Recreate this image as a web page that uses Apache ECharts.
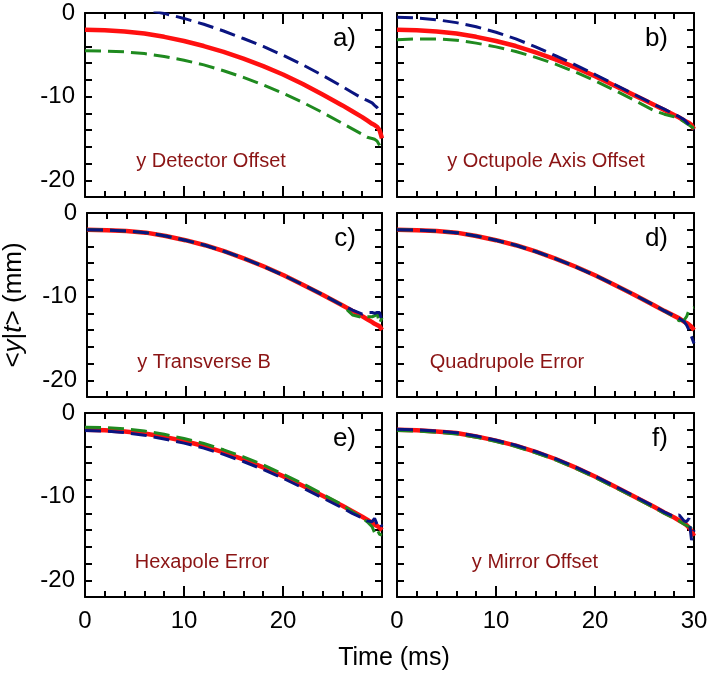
<!DOCTYPE html>
<html>
<head>
<meta charset="utf-8">
<script src="https://cdn.jsdelivr.net/npm/echarts@6/dist/echarts.min.js"></script>
<style>
html,body{margin:0;padding:0;background:#fff;}
#chart{width:712px;height:681px;}
</style>
</head>
<body>
<div id="chart"></div>
<script>
// ---- data (time in ms, <y|t> in mm) ----
const timeMs = [0,2,4,6,8,10,12,14,16,18,20,22,24,26,27,28,28.5,29,29.25,29.5,29.75,30];

const redA   = [-2.0,-2.05,-2.2,-2.45,-2.85,-3.35,-3.95,-4.65,-5.45,-6.35,-7.35,-8.5,-9.75,-11.05,-11.75,-12.45,-12.85,-13.25,-13.4,-13.6,-14.0,-15.0];
const navyA  = [1.0,0.95,0.8,0.45,-0.05,-0.65,-1.35,-2.15,-3.05,-4.0,-5.05,-6.2,-7.45,-8.8,-9.5,-10.2,-10.45,-10.75,-11.05,-11.3,-11.7,-12.1];
const greenA = [-4.5,-4.55,-4.65,-4.85,-5.2,-5.65,-6.2,-6.9,-7.7,-8.6,-9.6,-10.7,-11.9,-13.2,-13.85,-14.5,-14.85,-15.0,-15.1,-15.3,-15.8,-16.4];

const redB   = [-2.0,-2.05,-2.2,-2.45,-2.85,-3.35,-3.95,-4.7,-5.55,-6.5,-7.55,-8.7,-9.85,-11.0,-11.6,-12.2,-12.5,-12.85,-13.0,-13.15,-13.4,-13.9];
const navyB  = [-0.5,-0.6,-0.8,-1.15,-1.65,-2.3,-3.1,-4.05,-5.1,-6.2,-7.35,-8.55,-9.75,-10.95,-11.5,-12.1,-12.4,-12.75,-13.05,-13.35,-13.65,-14.0];
const greenB = [-3.2,-3.1,-3.1,-3.25,-3.6,-4.05,-4.6,-5.3,-6.1,-7.05,-8.1,-9.25,-10.45,-11.7,-12.1,-12.4,-12.6,-13.0,-13.2,-13.4,-13.6,-13.8];

const redC   = [-2.0,-2.05,-2.15,-2.35,-2.75,-3.25,-3.85,-4.6,-5.45,-6.4,-7.45,-8.6,-9.8,-11.05,-11.7,-12.35,-12.7,-13.05,-13.25,-13.4,-13.55,-14.0];
const navyC  = [-2.0,-2.05,-2.15,-2.35,-2.75,-3.25,-3.85,-4.6,-5.45,-6.4,-7.45,-8.6,-9.8,-11.05,-11.6,-12.1,-11.9,-11.9,-12.0,-11.9,-11.9,-12.9];
const greenC = [-2.0,-2.05,-2.15,-2.35,-2.75,-3.25,-3.85,-4.6,-5.45,-6.4,-7.45,-8.6,-9.8,-11.05,-12.2,-12.5,-12.4,-12.4,-12.3,-12.0,-13.2,-12.5];

const redD   = [-2.0,-2.05,-2.15,-2.35,-2.75,-3.25,-3.85,-4.6,-5.45,-6.4,-7.45,-8.6,-9.8,-11.05,-11.7,-12.3,-12.6,-13.0,-13.15,-13.35,-13.6,-14.0];
const navyD  = [-2.0,-2.05,-2.15,-2.35,-2.75,-3.25,-3.85,-4.6,-5.45,-6.4,-7.45,-8.6,-9.8,-11.05,-11.7,-12.3,-12.6,-13.0,-13.4,-14.0,-14.8,-15.6];
const greenD = [-2.0,-2.05,-2.15,-2.35,-2.75,-3.25,-3.85,-4.6,-5.45,-6.4,-7.45,-8.6,-9.8,-11.05,-11.7,-12.4,-12.9,-12.8,-12.4,-11.6,-11.4,-11.3];

const redE   = [-2.0,-2.05,-2.2,-2.45,-2.85,-3.35,-3.95,-4.7,-5.55,-6.5,-7.55,-8.7,-9.9,-11.1,-11.75,-12.4,-12.75,-13.15,-13.35,-13.5,-13.7,-14.0];
const navyE  = [-2.1,-2.15,-2.35,-2.65,-3.1,-3.6,-4.2,-4.95,-5.8,-6.75,-7.8,-8.95,-10.15,-11.35,-12.0,-12.55,-12.9,-13.0,-12.6,-13.3,-13.0,-13.6];
const greenE = [-1.7,-1.75,-1.9,-2.15,-2.55,-3.05,-3.65,-4.4,-5.25,-6.2,-7.3,-8.45,-9.7,-11.0,-11.8,-12.55,-13.0,-13.6,-14.3,-13.9,-14.5,-14.6];

const redF   = [-2.0,-2.05,-2.2,-2.4,-2.8,-3.3,-3.9,-4.65,-5.5,-6.5,-7.6,-8.8,-10.0,-11.25,-11.9,-12.5,-12.85,-13.2,-13.4,-13.7,-14.1,-14.7];
const navyF  = [-1.95,-2.0,-2.15,-2.35,-2.75,-3.25,-3.85,-4.6,-5.45,-6.45,-7.55,-8.75,-9.95,-11.2,-11.85,-12.4,-12.2,-12.9,-13.0,-12.6,-15.2,-14.0];
const greenF = [-2.1,-2.15,-2.3,-2.5,-2.9,-3.4,-4.0,-4.75,-5.6,-6.6,-7.7,-8.9,-10.1,-11.35,-12.0,-12.6,-12.9,-13.3,-13.45,-13.6,-13.8,-14.0];

const panelLetters = ['a)','b)','c)','d)','e)','f)'];
const panelNotes = ['y Detector Offset','y Octupole Axis Offset','y Transverse B','Quadrupole Error','Hexapole Error','y Mirror Offset'];
const xTicks = [0,10,20,30];
const yTicks = [0,-10,-20];

const panelSeries = [
  [redA, greenA, navyA],
  [redB, greenB, navyB],
  [redC, greenC, navyC],
  [redD, greenD, navyD],
  [redE, greenE, navyE],
  [redF, greenF, navyF]
];

// ---- layout / style ----
const FONT = "'Liberation Sans', Arial, Helvetica, sans-serif";
const colLeft = [85, 397];
const rowTop = [13, 213, 413];
const W = 297, H = 184;
const notePos = [[211,161],[546,161],[204,362],[507,362],[202,562],[535,562]];

const grids = [], xAxes = [], yAxes = [], series = [], graphics = [];
const lineCol = '#000';
for (let g = 0; g < 6; g++) {
  const col = g % 2, row = Math.floor(g / 2);
  grids.push({left: colLeft[col], top: rowTop[row], width: W, height: H, containLabel: false});
  const xBase = {
    type: 'value', gridIndex: g, min: 0, max: 30, interval: 10,
    axisLine: {show: true, onZero: false, lineStyle: {color: lineCol, width: 2}},
    axisTick: {show: true, inside: true, length: 11, lineStyle: {color: lineCol, width: 2}},
    minorTick: {show: true, splitNumber: 5, length: 6, lineStyle: {color: lineCol, width: 2}},
    splitLine: {show: false}, minorSplitLine: {show: false}
  };
  xAxes.push(Object.assign({}, xBase, {
    position: 'bottom',
    axisLabel: {
      show: row === 2, margin: 12, fontSize: 24, color: '#000', fontFamily: FONT,
      formatter: v => (xTicks.indexOf(v) >= 0 && !(col === 0 && v === 30)) ? String(v) : ''
    }
  }));
  xAxes.push(Object.assign({}, xBase, {position: 'top', axisLabel: {show: false}}));

  const yBase = {
    type: 'value', gridIndex: g, min: -22, max: 0, interval: 2,
    axisLine: {show: true, onZero: false, lineStyle: {color: lineCol, width: 2}},
    axisTick: {show: true, inside: true, length: 7, lineStyle: {color: lineCol, width: 2}},
    splitLine: {show: false}
  };
  const yLeft = Object.assign({}, yBase, {
    position: 'left',
    axisLabel: {
      show: col === 0, margin: 10, fontSize: 24, color: '#000', fontFamily: FONT,
      formatter: v => (yTicks.indexOf(v) >= 0) ? String(v) : ''
    }
  });
  if (g === 2) {
    yLeft.name = '<{i|y}|{i|t}> (mm)';
    yLeft.nameLocation = 'middle';
    yLeft.nameRotate = 90;
    yLeft.nameGap = 60;
    yLeft.nameTextStyle = {
      fontSize: 26, color: '#000', fontFamily: FONT,
      rich: {i: {fontStyle: 'italic', fontSize: 26, color: '#000', fontFamily: FONT}}
    };
  }
  yAxes.push(yLeft);
  yAxes.push(Object.assign({}, yBase, {position: 'right', axisLabel: {show: false}}));

  const [r, gr, nv] = panelSeries[g];
  const mk = (vals) => timeMs.map((t, k) => [t, vals[k]]);
  series.push({
    type: 'line', xAxisIndex: 2 * g, yAxisIndex: 2 * g, data: mk(r),
    showSymbol: false, symbol: 'none', smooth: false, clip: true, z: 2,
    lineStyle: {color: '#ff1010', width: 4.5, join: 'round'}
  });
  series.push({
    type: 'line', xAxisIndex: 2 * g, yAxisIndex: 2 * g, data: mk(gr),
    showSymbol: false, symbol: 'none', smooth: false, clip: true, z: 3,
    lineStyle: {color: '#1f8a1f', width: 3, type: [16, 7]}
  });
  series.push({
    type: 'line', xAxisIndex: 2 * g, yAxisIndex: 2 * g, data: mk(nv),
    showSymbol: false, symbol: 'none', smooth: false, clip: true, z: 4,
    lineStyle: {color: '#0a1480', width: 3, type: [16, 7]}
  });

  graphics.push({
    type: 'text', x: colLeft[col] + W - 26, y: rowTop[row] + 26, z: 10,
    style: {text: panelLetters[g], font: '26px ' + FONT, fill: '#000', textAlign: 'right', textVerticalAlign: 'middle'}
  });
  graphics.push({
    type: 'text', x: notePos[g][0], y: notePos[g][1], z: 10,
    style: {text: panelNotes[g], font: '20px ' + FONT, fill: '#8b1414', textAlign: 'center', textVerticalAlign: 'middle'}
  });
}
graphics.push({
  type: 'text', x: 394, y: 658, z: 10,
  style: {text: 'Time (ms)', font: '25px ' + FONT, fill: '#000', textAlign: 'center', textVerticalAlign: 'middle'}
});

const chart = echarts.init(document.getElementById('chart'), null, {renderer: 'canvas'});
chart.setOption({
  animation: false,
  backgroundColor: '#fff',
  grid: grids, xAxis: xAxes, yAxis: yAxes, series: series, graphic: graphics
});
</script>
</body>
</html>
